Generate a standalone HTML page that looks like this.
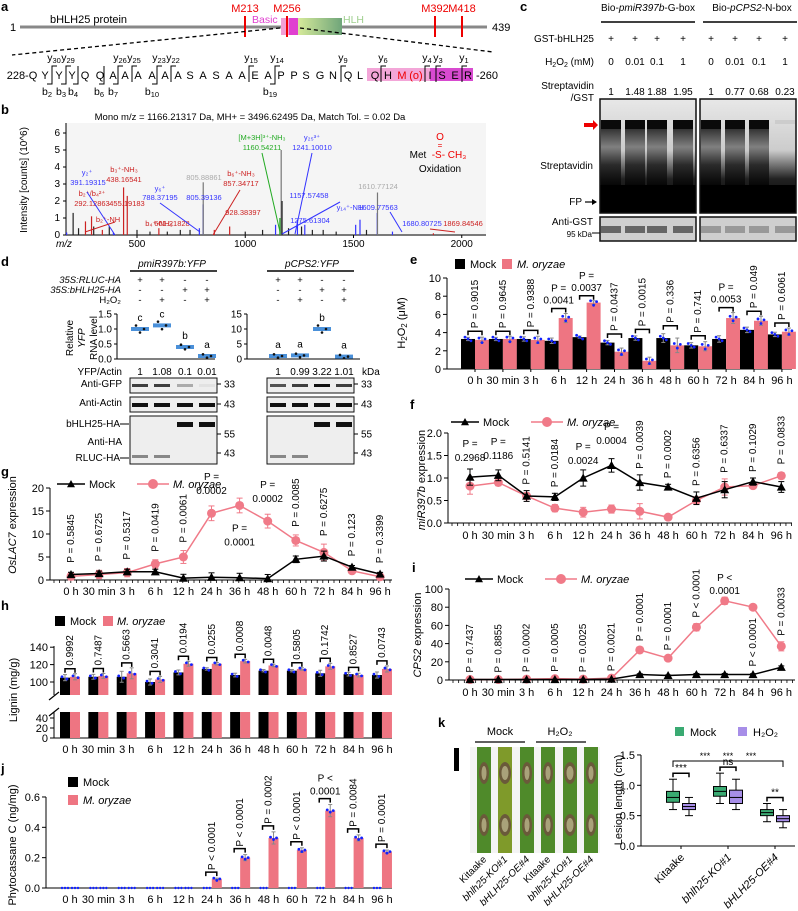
<!DOCTYPE html>
<html><head><meta charset="utf-8"><style>
html,body{margin:0;padding:0;background:#fff;}
svg{display:block;font-family:"Liberation Sans",Arial,sans-serif;}
</style></head><body>
<svg id="fig" width="798" height="911" viewBox="0 0 798 911" xmlns="http://www.w3.org/2000/svg">
<defs>
<linearGradient id="hlh" x1="0" x2="1"><stop offset="0" stop-color="#d6ea9a"/><stop offset="1" stop-color="#6fa57a"/></linearGradient>
<linearGradient id="smear" x1="0" x2="0" y1="0" y2="1"><stop offset="0" stop-color="#222"/><stop offset="0.3" stop-color="#777"/><stop offset="0.6" stop-color="#222"/><stop offset="1" stop-color="#000"/></linearGradient>
<linearGradient id="gelbg" x1="0" x2="0" y1="0" y2="1"><stop offset="0" stop-color="#e8e8e8"/><stop offset="0.45" stop-color="#ccc"/><stop offset="0.7" stop-color="#222"/><stop offset="1" stop-color="#000"/></linearGradient>
</defs>
</svg>
<script>
// ---------- data ----------
const cats = ['0 h','30 min','3 h','6 h','12 h','24 h','36 h','48 h','60 h','72 h','84 h','96 h'];
const eMock = [3.3,3.3,3.3,3.1,3.5,2.9,3.4,3.4,2.6,3.3,4.3,3.8];
const eOry  = [3.2,3.3,3.2,5.6,7.3,1.9,0.9,2.6,2.5,5.6,5.3,4.1];
const eErr  = [0.3,0.3,0.4,0.5,0.2,0.4,0.4,0.8,0.5,0.6,0.5,0.4];
const eP = ['0.9015','0.9645','0.9388','0.0041','0.0037','0.0437','0.0015','0.336','0.741','0.0053','0.049','0.6061'];
const eHoriz = [false,false,false,true,true,false,false,false,false,true,false,false];
const fMock = [1.02,1.06,0.6,0.58,1.0,1.28,0.9,0.8,0.55,0.74,0.92,0.8];
const fOry  = [0.82,0.9,0.6,0.33,0.24,0.31,0.26,0.13,0.5,0.8,0.83,1.05];
const fErr  = [0.18,0.12,0.12,0.08,0.18,0.15,0.17,0.06,0.14,0.18,0.08,0.12];
const fP = ['0.2968','0.1186','0.5141','0.0184','0.0024','0.0004','0.0039','0.0002','0.6356','0.6337','0.1029','0.0833'];
const fHoriz = [true,true,false,false,true,true,false,false,false,false,false,false];
const gMock = [1.2,1.4,1.8,1.8,0.4,0.6,0.5,0.3,4.5,5.2,2.8,1.3];
const gOry  = [0.8,1.2,1.6,3.5,5,14.5,16.2,12.8,8.6,6,2,0.7];
const gErr  = [0.8,0.9,0.9,0.9,1.4,1.6,1.6,1.5,1.2,1.8,0.6,0.6];
const gP = ['0.5845','0.6725','0.5317','0.0419','0.0061','0.0002','0.0001','0.0002','0.0085','0.6275','0.123','0.3399'];
const hMock = [105,106,106,100,111,115,108,113,113,110,109,108];
const hOry  = [106,107,110,103,121,121,124,119,115,118,108,115];
const hErr  = [5,4,9,5,4,2,3,2,2,5,3,5];
const hP = ['0.9992','0.7487','0.5663','0.3041','0.0194','0.0255','0.0008','0.0048','0.5805','0.1742','0.8527','0.0743'];
const iMock = [0.5,0.5,0.5,0.5,0.5,1,6,5,6,6,6,14];
const iOry  = [0.5,0.5,1,1.5,1,2,33,24,58,87,80,37];
const iErr  = [1,1,1,1,1,1,3,2,4,4,3,5];
const iP = ['P = 0.7437','P = 0.8855','P = 0.0002','P = 0.0005','P = 0.0025','P = 0.0021','P = 0.0001','P = 0.0001','P < 0.0001','P <|0.0001','P < 0.0001','P = 0.0033'];
const jOry = [0,0,0,0,0,0.06,0.2,0.33,0.25,0.51,0.33,0.24];
const jErr = [0,0,0,0,0,0.005,0.02,0.04,0.015,0.04,0.02,0.01];
const jP = ['','','','','','P < 0.0001','P < 0.0001','P = 0.0002','P < 0.0001','P <|0.0001','P = 0.0084','P = 0.0001'];
const dLeft = [1.0,1.12,0.4,0.1];
const dLeftL = ['c','c','b','a'];
const dRight = [1,1.2,10,0.8];
const dRightL = ['a','a','b','a'];
const kGroups = ['Kitaake','bhlh25-KO#1','bHLH25-OE#4'];
const kMock = [[0.6,0.72,0.8,0.9,1.1],[0.7,0.82,0.9,0.98,1.2],[0.4,0.5,0.55,0.6,0.7]];
const kH2O2 = [[0.5,0.6,0.65,0.7,0.8],[0.6,0.7,0.8,0.92,1.1],[0.3,0.4,0.45,0.5,0.6]];
const peaksMz = [175,205,230,262,290,300,340,372,391,438,455,500,560,601,640,700,745,788,805.3,805.9,857,928,1000,1080,1140,1160,1166,1170,1200,1241,1260,1275,1310,1360,1420,1510,1530,1560,1609.8,1610.8,1680,1869];
const peaksInt = [0.15,1.3,0.4,0.8,1.1,0.5,0.3,0.5,0.15,2.8,2.3,0.3,0.2,0.4,0.2,0.3,0.3,0.4,1.8,3.1,0.3,0.5,0.2,0.3,0.6,1.0,5.0,2.0,0.4,0.9,0.5,0.6,0.3,0.3,0.2,0.6,0.9,0.3,1.3,2.5,0.2,0.1];
const peaksCol = ['#33f','#222','#222','#c22','#c22','#222','#c22','#222','#33f','#c22','#c22','#222','#222','#c22','#222','#222','#222','#33f','#33f','#777','#c22','#c22','#222','#222','#33f','#2a2','#777','#222','#222','#33f','#222','#33f','#222','#222','#222','#33f','#33f','#222','#33f','#777','#33f','#c22'];

// ---------- helpers ----------
const NS='http://www.w3.org/2000/svg';
const svg=document.getElementById('fig');
function nm(e,n,i){
  
  
  return e;
}
function mk(tag,attrs,name,parent){
  const e=document.createElementNS(NS,tag);
  for(const k in attrs) e.setAttribute(k,attrs[k]);
  nm(e,name||tag);
  (parent||svg).appendChild(e);
  return e;
}
function T(x,y,s,o,name){
  o=o||{};
  const a={x:x,y:y,'font-size':o.fs||10,fill:o.fill||'#000','text-anchor':o.anchor||'middle'};
  if(o.rot!==undefined) a.transform='rotate('+o.rot+' '+x+' '+y+')';
  if(o.italic) a['font-style']='italic';
  if(o.bold) a['font-weight']='bold';
  const e=mk('text',a,name||'label');
  if(o.html) e.innerHTML=s; else e.textContent=s;
  return e;
}
function L(x1,y1,x2,y2,c,w,name,dash){
  const a={x1:x1,y1:y1,x2:x2,y2:y2,stroke:c||'#000','stroke-width':w||1};
  if(dash) a['stroke-dasharray']=dash;
  return mk('line',a,name||'line');
}
function R(x,y,w,h,f,name,extra){
  const a={x:x,y:y,width:Math.max(0,w),height:Math.max(0,h),fill:f};
  if(extra) for(const k in extra) a[k]=extra[k];
  return mk('rect',a,name||'rect');
}
function C(x,y,r,f,name){return mk('circle',{cx:x,cy:y,r:r,fill:f},name||'dot');}
function tri(x,y,s,name){return mk('polygon',{points:(x)+','+(y-s)+' '+(x-s)+','+(y+s*0.8)+' '+(x+s)+','+(y+s*0.8),fill:'#000'},name||'triangle-marker');}
function panel(ch,x,y){T(x,y,ch,{fs:13,bold:true,anchor:'start'},'panel-label-'+ch);}
function errbar(x,yTop,yBot,c,w,name){
  L(x,yTop,x,yBot,c,1,name);
  L(x-w,yTop,x+w,yTop,c,1,name+'-cap');
  L(x-w,yBot,x+w,yBot,c,1,name+'-cap');
}
function bracket(x1,x2,y,name){
  mk('path',{d:'M'+x1+' '+(y+4)+'V'+y+'H'+x2+'V'+(y+4),fill:'none',stroke:'#000','stroke-width':1.5},name||'p-bracket');
}
const TF=11, PF=10;

// ---------- panel a ----------
panel('a',1,11);
L(20,27,487,27,'#888',3,'protein-line');
T(13,31,'1',{fs:11},'protein-start');
T(492,31,'439',{fs:11,anchor:'start'},'protein-end');
T(50,23,'bHLH25 protein',{fs:11,anchor:'start'},'protein-title');
R(281,18,17,17,'#f29fd5','basic-domain');
R(289,18,9,17,'#e040d0','basic-domain-dark');
R(298,18,44,17,'url(#hlh)','hlh-domain');
T(252,23,'Basic',{fs:10.5,fill:'#e040d0',anchor:'start'},'basic-label');
T(343,23,'HLH',{fs:10.5,fill:'#9fcf8f',anchor:'start'},'hlh-label');
[[245,'M213'],[287,'M256'],[435,'M392'],[462,'M418']].forEach(m=>{
  L(m[0],16,m[0],37,'#e00',2,'met-site-'+m[1]);
  T(m[0],12,m[1],{fs:11,fill:'#e00'},'met-label-'+m[1]);
});
L(280,28,12,55,'#000',1.3,'zoom-line-left','4,3');
L(300,28,493,52,'#000',1.3,'zoom-line-right','4,3');
R(367,68,63,13,'#f3a6d8','highlight-peptide');
R(430,68,43,13,'#d84ad0','highlight-peptide-dark');
const seq=[[22,'228-Q'],[45,'Y'],[59,'Y'],[72,'Y'],[85,'Q'],[100,'Q'],[113,'A'],[125,'A'],[138,'A'],[152,'A'],[165,'A'],[178,'A'],[190,'S'],[203,'A'],[216,'S'],[229,'A'],[242,'A'],[255,'E'],[268,'A'],[281,'P'],[294,'P'],[306,'S'],[320,'G'],[333,'N'],[348,'Q'],[360,'L'],[375,'Q'],[388,'H'],[402,'M'],[416,'(o)'],[430,'I'],[442,'S'],[455,'E'],[468,'R'],[487,'-260']];
seq.forEach(s=>{T(s[0],79,s[1],{fs:11,fill:(s[1]==='M'||s[1]==='(o)')?'#e00':'#000'},'sequence-residue');});
const yIons=[[52,'30'],[66,'29'],[118,'26'],[132,'25'],[157,'23'],[171,'22'],[249,'15'],[275,'14'],[341,'9'],[381,'6'],[425,'4'],[436,'3'],[462,'1']];
yIons.forEach(b=>{mk('path',{d:'M'+(b[0]+5)+' 66H'+b[0]+'V82',fill:'none',stroke:'#000','stroke-width':1},'y-ion-bracket');
  T(b[0]+2,61,'y<tspan font-size="7.5" dy="2">'+b[1]+'</tspan>',{fs:10.5,html:true},'y-ion-label');});
const bIons=[[52,'2'],[66,'3'],[78,'4'],[104,'6'],[118,'7'],[157,'10'],[275,'19']];
bIons.forEach(b=>{mk('path',{d:'M'+(b[0]-5)+' 84H'+b[0]+'V66',fill:'none',stroke:'#000','stroke-width':1},'b-ion-bracket');
  T(b[0]-5,95,'b<tspan font-size="7.5" dy="2">'+b[1]+'</tspan>',{fs:10.5,html:true},'b-ion-label');});

// ---------- panel b ----------
panel('b',1,114);
T(250,120,'Mono m/z = 1166.21317 Da, MH+ = 3496.62495 Da, Match  Tol. = 0.02 Da',{fs:9.5},'spectrum-title');
R(66,123,420,113,'#f5f5f5','spectrum-plot-area');
const bx=v=>137+(v-500)*0.2165, by=v=>235-v*17;
for(let t=0;t<=6;t++){L(63,by(t),66,by(t),'#000',1,'b-y-tick');T(60,by(t)+3,String(t),{fs:10,anchor:'end'},'b-y-tick-label');}
L(66,123,66,235,'#000',1,'b-y-axis');L(66,235,486,235,'#000',1,'b-x-axis');
[500,1000,1500,2000].forEach(v=>{L(bx(v),235,bx(v),238,'#000',1,'b-x-tick');T(bx(v),247,String(v),{fs:10},'b-x-tick-label');});
T(64,247,'m/z',{fs:10,italic:true},'b-x-axis-title');
T(27,180,'Intensity [counts]  (10^6)',{fs:10,rot:-90},'b-y-axis-title');
peaksMz.forEach((m,k)=>{L(bx(m),235,bx(m),by(peaksInt[k]),peaksCol[k],1.2,'spectrum-peak');});
const ann=[[87,175,'y₂⁺','#33f'],[88,185,'391.19315','#33f'],[124,172,'b₃⁺-NH₃','#c22'],[124,182,'438.16541','#c22'],[92,196,'b₂⁺/b₄²⁺','#c22'],[92,206,'292.12863','#c22'],[127,206,'455.19183','#c22'],[108,222,'b₂⁺-NH','#c22'],[160,200,'788.37195','#33f'],[160,191,'y₆⁺','#33f'],[159,226,'b₄⁺-NH₃','#c22'],[172,226,'601.21828','#c22'],[204,180,'805.88861','#aaa'],[204,200,'805.39136','#33f'],[241,176,'b₆⁺-NH₃','#c22'],[241,186,'857.34717','#c22'],[243,215,'928.38397','#c22'],[262,140,'[M+3H]³⁺-NH₃','#2a2'],[262,150,'1160.54211','#2a2'],[312,140,'y₂₅³⁺','#33f'],[312,150,'1241.10010','#33f'],[309,198,'1157.57458','#33f'],[310,223,'1275.61304','#33f'],[350,210,'y₁₄⁺-NH','#33f'],[378,189,'1610.77124','#aaa'],[378,210,'1609.77563','#33f'],[422,226,'1680.80725','#33f'],[463,226,'1869.84546','#c22']];
ann.forEach(a=>{T(a[0],a[1],a[2],{fs:7.5,fill:a[3]},'peak-annotation');});
L(87,192,115,235,'#33f',1,'annotation-leader');L(262,153,280,232,'#2a2',1,'annotation-leader');L(312,153,295,234,'#33f',1,'annotation-leader');
L(240,190,213,235,'#c22',1,'annotation-leader');L(160,203,200,232,'#33f',1,'annotation-leader');L(85,232,115,222,'#c22',1,'annotation-leader');
L(340,202,282,234,'#33f',1,'annotation-leader');L(390,212,402,232,'#33f',1,'annotation-leader');L(430,229,455,232,'#c22',1,'annotation-leader');
T(440,140,'O',{fs:10,fill:'#e00'},'met-oxidation-O');T(440,148,'=',{fs:8,fill:'#e00'},'met-oxidation-bond');
T(418,158,'Met',{fs:10},'met-label');T(449,158,'-S- CH₃',{fs:10,fill:'#e00'},'met-s-ch3');
T(440,172,'Oxidation',{fs:10},'oxidation-label');

// ---------- panel c ----------
panel('c',520,11);
T(648,11,'Bio-<tspan font-style="italic">pmiR397b</tspan>-G-box',{fs:10,html:true},'c-header-mir397b');
T(752,11,'Bio-<tspan font-style="italic">pCPS2</tspan>-N-box',{fs:10,html:true},'c-header-cps2');
L(601,22,695,22,'#000',1.5,'c-header-line');L(703,22,797,22,'#000',1.5,'c-header-line');
const cCols=[611,635,657,683,711,735,759,785];
T(594,42,'GST-bHLH25',{fs:10,anchor:'end'},'c-row-label');
T(594,65,'H<tspan font-size="7" dy="2">2</tspan><tspan dy="-2">O</tspan><tspan font-size="7" dy="2">2</tspan><tspan dy="-2"> (mM)</tspan>',{fs:10,anchor:'end',html:true},'c-row-label');
T(594,89,'Streptavidin',{fs:10,anchor:'end'},'c-row-label');T(594,101,'/GST',{fs:10,anchor:'end'},'c-row-label');
const cH=['0','0.01','0.1','1','0','0.01','0.1','1'], cR=['1','1.48','1.88','1.95','1','0.77','0.68','0.23'];
cCols.forEach((x,k)=>{T(x,42,'+',{fs:10},'c-plus');T(x,65,cH[k],{fs:10},'c-h2o2');T(x,95,cR[k],{fs:10},'c-ratio');});
const gels=[[600,0],[700,4]];
gels.forEach(g=>{
  R(g[0],99,96,114,'url(#gelbg)','streptavidin-gel');
  for(let k=0;k<4;k++){const x=cCols[g[1]+k];
    const faint=(g[1]===4&&k===3);
    R(x-10,120,20,faint?4:9,faint?'#ccc':'#0a0a0a','shift-band');
    if(!faint) R(x-10,129,20,60,'url(#smear)','smear-lane',{opacity:0.9});}
  R(g[0],185,96,28,'#000','free-probe-region');
  R(g[0],99,96,114,'none','gel-frame',{stroke:'#111','stroke-width':1.5});
  R(g[0],217,96,24,'#cfcfcf','anti-gst-blot',{stroke:'#111','stroke-width':1.5});
  for(let k=0;k<4;k++){R(cCols[g[1]+k]-10,226,20,7,g[1]?'#999':'#666','gst-band');}
});
mk('polygon',{points:'584,123 593,123 593,120 598,125 593,130 593,127 584,127',fill:'#e00'},'red-arrow');
T(593,169,'Streptavidin',{fs:10,anchor:'end'},'c-streptavidin-label');
T(582,205,'FP',{fs:10,anchor:'end'},'c-fp-label');L(585,202,596,202,'#000',1.2,'fp-arrow');
mk('polygon',{points:'597,202 592,199 592,205',fill:'#000'},'fp-arrowhead');
T(593,225,'Anti-GST',{fs:10,anchor:'end'},'c-antigst-label');T(592,237,'95 kDa',{fs:8,anchor:'end'},'c-kda-label');L(592,233,600,233,'#000',1,'marker-tick');

// ---------- panel d ----------
panel('d',1,266);
T(172,267,'pmiR397b:YFP',{fs:10,italic:true},'d-header-left');T(312,267,'pCPS2:YFP',{fs:10,italic:true},'d-header-right');
L(130,271,217,271,'#000',1.5,'d-header-line');L(267,271,354,271,'#000',1.5,'d-header-line');
const dColsL=[140,162,185,207], dColsR=[278,300,322,344];
const rowSigns=[['+','+','-','-'],['-','-','+','+'],['-','+','-','+']];
['35S:RLUC-HA','35S:bHLH25-HA','H₂O₂'].forEach((s,r)=>{T(121,283+r*10,s,{fs:9.5,anchor:'end',italic:r<2},'d-row-label');
  rowSigns[r].forEach((v,k)=>{T(dColsL[k],283+r*10,v,{fs:9.5},'d-sign');T(dColsR[k],283+r*10,v,{fs:9.5},'d-sign');});});
function dChart(ax,cols,vals,lets,max,ticks,xEnd,nmP){
  const y=v=>359-v/max*45;
  L(ax,314,ax,359,'#000',1,nmP+'-y-axis');L(ax,359,xEnd,359,'#000',1,nmP+'-x-axis');
  ticks.forEach(t=>{L(ax-3,y(t),ax,y(t),'#000',1,nmP+'-y-tick');T(ax-5,y(t)+3.5,t.toFixed(max<2?1:0),{fs:10,anchor:'end'},nmP+'-y-tick-label');});
  vals.forEach((v,k)=>{const x=cols[k];
    R(x-9,y(v)-2,18,4,'#4a90d9',nmP+'-mean-bar');
    [-4,0,4].forEach((o,j)=>C(x+o,y(v)+[-1.5,1.5,0][j]*(1+v/max*2),1.3,'#111',nmP+'-replicate-dot'));
    T(x,y(v)-8,lets[k],{fs:10},nmP+'-significance-letter');});
}
dChart(117,dColsL,dLeft,dLeftL,1.5,[0,0.5,1.0,1.5],215,'d-left');
dChart(247,dColsR,dRight,dRightL,15,[0,5,10,15],360,'d-right');
T(73,338,'Relative',{fs:10,rot:-90},'d-y-title');T(85,338,'YFP',{fs:10,rot:-90,italic:true},'d-y-title');T(97,338,'RNA level',{fs:10,rot:-90},'d-y-title');
T(122,375,'YFP/Actin',{fs:10,anchor:'end'},'d-ratio-label');
['1','1.08','0.1','0.01'].forEach((s,k)=>T(dColsL[k],375,s,{fs:10},'d-ratio'));['1','0.99','3.22','1.01'].forEach((s,k)=>T(dColsR[k],375,s,{fs:10},'d-ratio'));
T(362,375,'kDa',{fs:10,anchor:'start'},'d-kda');
const gfpL=[0.8,0.8,0.3,0.05], gfpR=[0.7,0.8,1,0.8];
[[130,dColsL,gfpL,[0,0,1,1]],[267,dColsR,gfpR,[0,0,1,1]]].forEach(bl=>{
  R(bl[0],378,87,15,'#eee','anti-gfp-blot',{stroke:'#111','stroke-width':1});
  R(bl[0],397,87,15,'#eee','anti-actin-blot',{stroke:'#111','stroke-width':1});
  R(bl[0],416,87,48,'#eee','anti-ha-blot',{stroke:'#111','stroke-width':1});
  bl[1].forEach((x,k)=>{
    R(x-8,384,16,3,'#111','gfp-band',{opacity:bl[2][k]});
    R(x-8,403,16,4,'#111','actin-band');
    if(bl[3][k])R(x-8,422,16,5,'#111','bhlh25-ha-band');else R(x-8,455,16,3,'#888','rluc-ha-band');
  });
  [[384,'33'],[404,'43'],[434,'55'],[453,'43']].forEach(m=>{L(bl[0]+87,m[0],bl[0]+91,m[0],'#000',1,'marker-tick');T(bl[0]+94,m[0]+3.5,m[1],{fs:10,anchor:'start'},'kda-marker');});
});
T(122,387,'Anti-GFP',{fs:10,anchor:'end'},'d-blot-label');T(122,406,'Anti-Actin',{fs:10,anchor:'end'},'d-blot-label');
T(120,427,'bHLH25-HA',{fs:10,anchor:'end'},'d-blot-label');T(122,445,'Anti-HA',{fs:10,anchor:'end'},'d-blot-label');T(120,461,'RLUC-HA',{fs:10,anchor:'end'},'d-blot-label');
L(120,424,129,424,'#000',1,'d-arrow');L(120,458,129,458,'#000',1,'d-arrow');

// ---------- shared legends ----------
function lineLegend(x,y,name){
  L(x,y,x+28,y,'#000',1.5,'legend-mock-line');tri(x+14,y,4,'legend-mock-marker');T(x+32,y+4,'Mock',{fs:TF,anchor:'start'},'legend-mock-text');
  L(x+80,y,x+112,y,'#f07a88',1.5,'legend-oryzae-line');C(x+96,y,5,'#f07a88','legend-oryzae-marker');T(x+116,y+4,'M. oryzae',{fs:TF,anchor:'start',italic:true},'legend-oryzae-text');
}
function xLabels(xf,y,name){cats.forEach((c,k)=>T(xf(k),y,c,{fs:TF},name));}

// ---------- panel e ----------
panel('e',410,264);
R(455,259,10,10,'#000','legend-mock-swatch');T(470,268,'Mock',{fs:TF,anchor:'start'},'legend-mock-text');
R(502,259,10,10,'#ee7582','legend-oryzae-swatch');T(517,268,'M. oryzae',{fs:TF,anchor:'start',italic:true},'legend-oryzae-text');
const ex=k=>475+k*27.9, ey=v=>369-v*9.1;
L(447,ey(10),447,369,'#000',1,'e-y-axis');L(447,369,792,369,'#000',1,'e-x-axis');
[0,2,4,6,8,10].forEach(t=>{L(443,ey(t),447,ey(t),'#000',1,'e-y-tick');T(441,ey(t)+4,String(t),{fs:TF,anchor:'end'},'e-y-tick-label');});
T(405,323,'H<tspan font-size="8" dy="2">2</tspan><tspan dy="-2">O</tspan><tspan font-size="8" dy="2">2</tspan><tspan dy="-2"> (μM)</tspan>',{fs:TF,rot:-90,html:true},'e-y-axis-title');
cats.forEach((c,k)=>{const x=ex(k);
  R(x-14,ey(eMock[k]),14,369-ey(eMock[k]),'#000','e-bar-mock');
  R(x,ey(eOry[k]),14,369-ey(eOry[k]),'#ee7582','e-bar-oryzae');
  errbar(x-7,ey(eMock[k]+eErr[k]*0.6),ey(eMock[k]-eErr[k]*0.6),'#888',2,'e-err-mock');
  errbar(x+7,ey(eOry[k]+eErr[k]),ey(eOry[k]-eErr[k]),'#888',2,'e-err-oryzae');
  [[-10,0.2],[-7,0],[-4,-0.2]].forEach(d=>C(x+d[0],ey(eMock[k]+d[1]),1.4,'#12f','e-dot-mock'));
  [[4,0.2],[7,-0.3],[10,0.1]].forEach(d=>C(x+d[0],ey(eOry[k]+d[1]),1.4,'#12f','e-dot-oryzae'));
  L(x,369,x,372,'#000',1,'e-x-tick');
  const top=ey(Math.max(eMock[k],eOry[k])+eErr[k])-5;
  bracket(x-7,x+7,top,'e-p-bracket');
  if(eHoriz[k]){T(x,top-17,'P =',{fs:PF},'e-p-value');T(x,top-5,eP[k],{fs:PF},'e-p-value');}
  else T(x+3,top-3,'P = '+eP[k],{fs:PF,rot:-90,anchor:'start'},'e-p-value');
});
xLabels(ex,384,'e-x-tick-label');

// ---------- panel f ----------
panel('f',410,409);
lineLegend(451,422,'f');
const fx=k=>470+k*28.3, fy=v=>523-v*45;
L(448,fy(2),448,523,'#000',1,'f-y-axis');L(448,523,792,523,'#000',1,'f-x-axis');
for(let x=452;x<792;x+=5.66)L(x,523,x,526,'#000',0.8,'f-minor-tick');
[0,0.5,1,1.5,2].forEach(t=>{L(444,fy(t),448,fy(t),'#000',1,'f-y-tick');T(442,fy(t)+4,t.toFixed(1),{fs:TF,anchor:'end'},'f-y-tick-label');});
T(425,480,'<tspan font-style="italic">miR397b</tspan> expression',{fs:TF,rot:-90,html:true},'f-y-axis-title');
function lineSeries(xf,yf,vals,err,col,marker,nmS){
  let d='';vals.forEach((v,k)=>{d+=(k?'L':'M')+xf(k)+' '+yf(v);});
  mk('path',{d:d,fill:'none',stroke:col,'stroke-width':1.5},nmS+'-line');
  vals.forEach((v,k)=>{if(err[k])errbar(xf(k),yf(v+err[k]),yf(Math.max(v-err[k],0)),col,3,nmS+'-err');
    if(marker==='tri')tri(xf(k),yf(v),4.5,nmS+'-point');else C(xf(k),yf(v),4.5,col,nmS+'-point');});
}
lineSeries(fx,fy,fOry,fErr.map((e,k)=>k%3?e*0.6:e),'#f07a88','circ','f-oryzae');
lineSeries(fx,fy,fMock,fErr,'#000','tri','f-mock');
cats.forEach((c,k)=>{const x=fx(k);const top=Math.min(fy(fMock[k]+fErr[k]),fy(fOry[k]+fErr[k]))-6;
  if(fHoriz[k]){const t=[447,445,0,0,450,430][k];T(x,t,'P =',{fs:PF},'f-p-value');T(x,t+14,fP[k],{fs:PF},'f-p-value');}
  else T(x+3,top,'P = '+fP[k],{fs:PF,rot:-90,anchor:'start'},'f-p-value');});
xLabels(fx,539,'f-x-tick-label');

// ---------- panel g ----------
panel('g',1,476);
lineLegend(57,484,'g');
const gx=k=>71+k*28.1, gy=v=>580-v*4.6;
L(50,gy(20),50,580,'#000',1,'g-y-axis');L(50,580,392,580,'#000',1,'g-x-axis');
for(let x=54;x<392;x+=5.6)L(x,580,x,583,'#000',0.8,'g-minor-tick');
[0,5,10,15,20].forEach(t=>{L(46,gy(t),50,gy(t),'#000',1,'g-y-tick');T(44,gy(t)+4,String(t),{fs:TF,anchor:'end'},'g-y-tick-label');});
T(16,525,'<tspan font-style="italic">OsLAC7</tspan> expression',{fs:TF,rot:-90,html:true},'g-y-axis-title');
lineSeries(gx,gy,gOry,gErr,'#f07a88','circ','g-oryzae');
lineSeries(gx,gy,gMock,gErr.map(e=>e*0.6),'#000','tri','g-mock');
cats.forEach((c,k)=>{const x=gx(k);
  if(k===5||k===7){const t=gy(gOry[k]+gErr[k])-26;T(x,t,'P =',{fs:PF},'g-p-value');T(x,t+14,gP[k],{fs:PF},'g-p-value');}
  else if(k===6){T(x,gy(gOry[k])+26,'P =',{fs:PF},'g-p-value');T(x,gy(gOry[k])+40,gP[k],{fs:PF},'g-p-value');}
  else{const top=Math.min(gy(gMock[k]+gErr[k]),gy(gOry[k]+gErr[k]))-8;T(x+3,top,'P = '+gP[k],{fs:PF,rot:-90,anchor:'start'},'g-p-value');}
});
xLabels(gx,595,'g-x-tick-label');

// ---------- panel h ----------
panel('h',1,610);
R(55,616,10,10,'#000','legend-mock-swatch');T(70,625,'Mock',{fs:TF,anchor:'start'},'legend-mock-text');
R(103,616,10,10,'#ee7582','legend-oryzae-swatch');T(117,625,'M. oryzae',{fs:TF,anchor:'start',italic:true},'legend-oryzae-text');
const hx=k=>70+k*28.36, hy=v=>682-(v-100)*0.87, hl=v=>738-v*0.5;
L(54,646,54,695,'#000',1,'h-y-axis-upper');L(54,712,54,738,'#000',1,'h-y-axis-lower');L(54,738,392,738,'#000',1,'h-x-axis');
L(49,700,59,692,'#000',1.2,'h-axis-break');L(49,716,59,708,'#000',1.2,'h-axis-break');
[100,120,140].forEach(t=>{L(50,hy(t),54,hy(t),'#000',1,'h-y-tick');T(48,hy(t)+4,String(t),{fs:TF,anchor:'end'},'h-y-tick-label');});
[0,20,40].forEach(t=>{L(50,hl(t),54,hl(t),'#000',1,'h-y-tick');T(48,hl(t)+4,String(t),{fs:TF,anchor:'end'},'h-y-tick-label');});
T(17,690,'Lignin (mg/g)',{fs:TF,rot:-90},'h-y-axis-title');
cats.forEach((c,k)=>{const x=hx(k);
  R(x-10,hy(hMock[k]),10,695-hy(hMock[k]),'#000','h-bar-mock-upper');R(x,hy(hOry[k]),10,695-hy(hOry[k]),'#ee7582','h-bar-oryzae-upper');
  R(x-10,712,10,26,'#000','h-bar-mock-lower');R(x,712,10,26,'#ee7582','h-bar-oryzae-lower');
  errbar(x-5,hy(hMock[k]+hErr[k]*0.7),hy(hMock[k]-hErr[k]*0.7),'#888',2,'h-err-mock');
  errbar(x+5,hy(hOry[k]+hErr[k]*0.7),hy(hOry[k]-hErr[k]*0.7),'#888',2,'h-err-oryzae');
  [[-8,1],[-3,-1.5]].forEach(d=>C(x+d[0],hy(hMock[k]+d[1]),1.4,'#12f','h-dot-mock'));
  [[3,1],[8,-1]].forEach(d=>C(x+d[0],hy(hOry[k]+d[1]),1.4,'#12f','h-dot-oryzae'));
  const top=hy(Math.max(hMock[k],hOry[k])+hErr[k]*0.7)-5;
  bracket(x-5,x+5,top,'h-p-bracket');
  T(x+3,top-3,hP[k],{fs:PF,rot:-90,anchor:'start'},'h-p-value');
});
xLabels(hx,753,'h-x-tick-label');

// ---------- panel i ----------
panel('i',412,572);
lineLegend(465,579,'i');
const ix=k=>470+k*28.3, iy=v=>680-v*0.91;
L(449,iy(100),449,680,'#000',1,'i-y-axis');L(449,680,795,680,'#000',1,'i-x-axis');
for(let x=453;x<795;x+=5.66)L(x,680,x,683,'#000',0.8,'i-minor-tick');
[0,20,40,60,80,100].forEach(t=>{L(445,iy(t),449,iy(t),'#000',1,'i-y-tick');T(443,iy(t)+4,String(t),{fs:TF,anchor:'end'},'i-y-tick-label');});
T(421,635,'<tspan font-style="italic">CPS2</tspan> expression',{fs:TF,rot:-90,html:true},'i-y-axis-title');
lineSeries(ix,iy,iOry,iErr,'#f07a88','circ','i-oryzae');
lineSeries(ix,iy,iMock,iErr.map(e=>e*0.3),'#000','tri','i-mock');
cats.forEach((c,k)=>{const x=ix(k);
  if(iP[k].indexOf('|')>=0){const p=iP[k].split('|');const t=iy(iOry[k]+iErr[k])-16;T(x,t,p[0],{fs:PF},'i-p-value');T(x,t+13,p[1],{fs:PF},'i-p-value');}
  else{let top=Math.min(iy(iMock[k]+1),iy(iOry[k]+iErr[k]))-6;if(k===10)top=iy(iMock[k])-8;T(x+3,top,iP[k],{fs:PF,rot:-90,anchor:'start'},'i-p-value');}
});
xLabels(ix,696,'i-x-tick-label');

// ---------- panel j ----------
panel('j',1,773);
R(68,777,10,10,'#000','legend-mock-swatch');T(83,786,'Mock',{fs:TF,anchor:'start'},'legend-mock-text');
R(68,795,10,10,'#ee7582','legend-oryzae-swatch');T(83,804,'M. oryzae',{fs:TF,anchor:'start',italic:true},'legend-oryzae-text');
const jx=hx, jy=v=>888-v*151.7;
L(46,jy(0.6),46,888,'#000',1,'j-y-axis');L(46,888,392,888,'#000',1,'j-x-axis');
[0,0.2,0.4,0.6].forEach(t=>{L(42,jy(t),46,jy(t),'#000',1,'j-y-tick');T(40,jy(t)+4,t.toFixed(1),{fs:TF,anchor:'end'},'j-y-tick-label');});
T(16,845,'Phytocassane C (ng/mg)',{fs:TF,rot:-90},'j-y-axis-title');
cats.forEach((c,k)=>{const x=jx(k);
  [-8,-5,-2].forEach(o=>C(x+o,888,1.2,'#12f','j-dot-mock'));
  if(jOry[k]>0){R(x,jy(jOry[k]),10,888-jy(jOry[k]),'#ee7582','j-bar-oryzae');
    errbar(x+5,jy(jOry[k]+jErr[k]),jy(jOry[k]-jErr[k]),'#888',2,'j-err');
    [[2,0.005],[5,-0.01],[8,0]].forEach(d=>C(x+d[0],jy(jOry[k]+d[1]),1.4,'#12f','j-dot-oryzae'));}
  else[2,5,8].forEach(o=>C(x+o,888,1.2,'#12f','j-dot-oryzae'));
  if(jP[k]){const top=jy(jOry[k]+jErr[k])-6;bracket(x-6,x+5,top,'j-p-bracket');
    if(jP[k].indexOf('|')>=0){const p=jP[k].split('|');T(x,top-17,p[0],{fs:PF},'j-p-value');T(x,top-4,p[1],{fs:PF},'j-p-value');}
    else T(x+3,top-2,jP[k],{fs:PF,rot:-90,anchor:'start'},'j-p-value');}
});
xLabels(jx,903,'j-x-tick-label');

// ---------- panel k ----------
panel('k',438,727);
T(500,735,'Mock',{fs:TF},'k-mock-header');T(560,735,'H₂O₂',{fs:TF},'k-h2o2-header');
L(475,742,525,742,'#000',1.3,'k-header-line');L(536,742,586,742,'#000',1.3,'k-header-line');
R(470,747,130,106,'#f4f4f4','leaf-photo');
const leafX=[477,498,520,541,563,584];
leafX.forEach((x,k)=>{R(x,747,14,106,k===1?'#7f9a2a':'#4f8a2a','leaf-strip');
  const w=k===1||k===4?6:5;
  [773,825].forEach(y=>{mk('ellipse',{cx:x+7,cy:y,rx:w,ry:11,fill:'#6a5a3a'},'lesion');mk('ellipse',{cx:x+7,cy:y,rx:w-2.5,ry:7,fill:'#a9a27a'},'lesion-center');});});
R(454,748,5,23,'#000','scale-bar');
['Kitaake','bhlh25-KO#1','bHLH25-OE#4','Kitaake','bhlh25-KO#1','bHLH25-OE#4'].forEach((s,k)=>{T(leafX[k]+10,860,s,{fs:10,anchor:'end',rot:-45,italic:k%3>0},'k-leaf-label');});
R(675,727,9,9,'#3aaa72','legend-mock-swatch');T(690,736,'Mock',{fs:TF,anchor:'start'},'legend-mock-text');
R(738,727,9,9,'#a78ee8','legend-h2o2-swatch');T(753,736,'H₂O₂',{fs:TF,anchor:'start'},'legend-h2o2-text');
const ky=v=>846-v*60.7, kc=[681,728,775];
L(641,ky(1.5),641,846,'#000',1,'k-y-axis');L(641,846,795,846,'#000',1,'k-x-axis');
[0,0.5,1,1.5].forEach(t=>{L(637,ky(t),641,ky(t),'#000',1,'k-y-tick');T(635,ky(t)+4,t.toFixed(1),{fs:TF,anchor:'end'},'k-y-tick-label');});
T(622,800,'Lesion length (cm)',{fs:TF,rot:-90},'k-y-axis-title');
function box(x,s,col,name){
  L(x,ky(s[0]),x,ky(s[4]),'#000',1,name+'-whisker');L(x-4,ky(s[0]),x+4,ky(s[0]),'#000',1,name+'-cap');L(x-4,ky(s[4]),x+4,ky(s[4]),'#000',1,name+'-cap');
  R(x-6.5,ky(s[3]),13,ky(s[1])-ky(s[3]),col,name+'-box',{stroke:'#000','stroke-width':1});
  L(x-6.5,ky(s[2]),x+6.5,ky(s[2]),'#000',1,name+'-median');
}
kGroups.forEach((g,k)=>{box(kc[k]-8,kMock[k],'#3aaa72','k-mock-'+k);box(kc[k]+8,kH2O2[k],'#a78ee8','k-h2o2-'+k);
  L(kc[k],846,kc[k],849,'#000',1,'k-x-tick');
  T(kc[k]+4,858,g,{fs:TF,anchor:'end',rot:-45,italic:k>0},'k-x-tick-label');});
const sig=['***','ns','**'];
kGroups.forEach((g,k)=>{const t=ky(Math.max(kMock[k][4],kH2O2[k][4]))-6;bracket(kc[k]-8,kc[k]+8,t,'k-sig-bracket');T(kc[k],t-2,sig[k],{fs:10},'k-sig-label');});
mk('path',{d:'M'+(kc[0]-8)+' '+(ky(1.4)+6)+'V'+ky(1.4)+'H'+(kc[2]+8)+'V'+(ky(1.4)+6),fill:'none',stroke:'#000','stroke-width':1},'k-long-bracket');
[705,728,751].forEach(x=>T(x,ky(1.4)-2,'***',{fs:9},'k-sig-label'));
</script>
</body></html>
